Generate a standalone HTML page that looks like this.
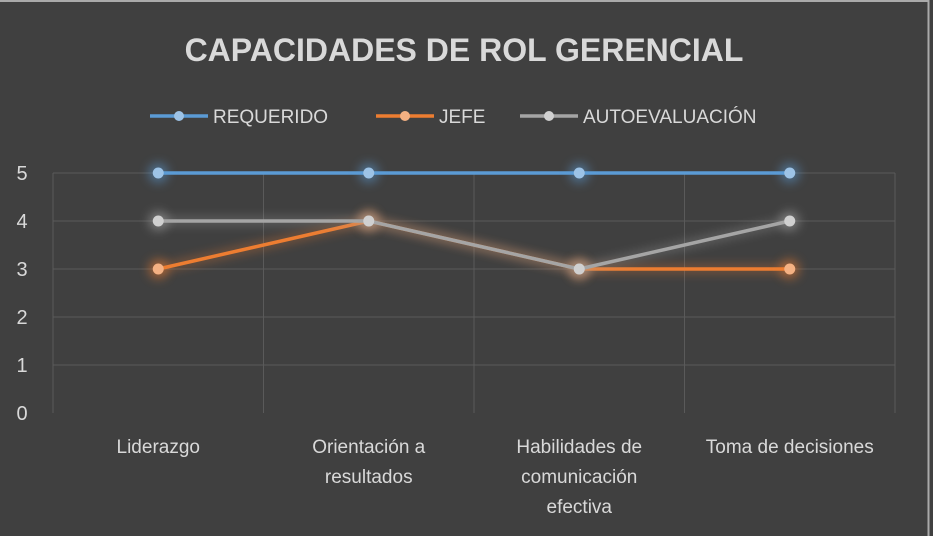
<!DOCTYPE html>
<html><head><meta charset="utf-8"><style>
html,body{margin:0;padding:0;background:#404040;}
svg{display:block;font-family:"Liberation Sans",sans-serif;}
</style></head><body>
<svg id="chart" width="933" height="536">
<defs>
<filter id="glow" x="-50%" y="-50%" width="200%" height="200%"><feGaussianBlur stdDeviation="5"/></filter>
</defs>
<rect x="0" y="0" width="933" height="536" fill="#404040"/>
<line x1="0" y1="1" x2="929" y2="1" stroke="#aaa" stroke-width="2"/>
<line x1="928.5" y1="0" x2="928.5" y2="536" stroke="#aaa" stroke-width="2"/>
<text x="464" y="61" text-anchor="middle" fill="#d9d9d9" font-size="32" font-weight="bold">CAPACIDADES DE ROL GERENCIAL</text>
<g id="legend"></g>
<g id="grid"></g>
<g id="yaxis"></g>
<g id="xaxis"></g>
<g id="series"></g>
</svg>
<script>
const categories=[["Liderazgo"],["Orientación a","resultados"],["Habilidades de","comunicación","efectiva"],["Toma de decisiones"]];
const requerido=[5,5,5,5];
const jefe=[3,4,3,3];
const autoevaluacion=[4,4,3,4];
const yTicks=[0,1,2,3,4,5];
const seriesNames=["REQUERIDO","JEFE","AUTOEVALUACIÓN"];
const seriesColors=["#5b9bd5","#ed7d31","#a5a5a5"];
const markerColors=["#9dc3e6","#f4b183","#d0d0d0"];

const NS="http://www.w3.org/2000/svg";
const L=53,R=895,T=173,B=413,yMax=5;
const xs=i=>L+(R-L)/categories.length*(i+0.5);
const ys=v=>B-(B-T)*v/yMax;
function mk(tag,attrs,parent){const e=document.createElementNS(NS,tag);for(const k in attrs)e.setAttribute(k,attrs[k]);parent.appendChild(e);return e;}
const grid=document.getElementById('grid'),yax=document.getElementById('yaxis'),xax=document.getElementById('xaxis'),ser=document.getElementById('series'),leg=document.getElementById('legend');
yTicks.forEach(t=>{
 if(t>0){const g=mk('line',{x1:L,x2:R,y1:ys(t),y2:ys(t),stroke:'#5a5a5a','stroke-width':1},grid);
 
 }
 const tx=mk('text',{x:22,y:ys(t)+7,'text-anchor':'middle',fill:'#d9d9d9','font-size':20},yax);
 tx.textContent=t;
 
 
});
for(let i=0;i<=categories.length;i++){
 const x=L+(R-L)/categories.length*i;
 const g=mk('line',{x1:x,x2:x,y1:T,y2:B,stroke:'#5a5a5a','stroke-width':1},grid);
 
 
}
categories.forEach((c,i)=>{
 c.forEach((line,j)=>{
  const tx=mk('text',{x:xs(i),y:453+j*30,'text-anchor':'middle',fill:'#d9d9d9','font-size':19},xax);
  tx.textContent=line;
  
  
 });
});
const allSeries=[requerido,jefe,autoevaluacion];
allSeries.forEach((vals,s)=>{
 const g=mk('g',{},ser);
 
 
 const pts=vals.map((v,i)=>xs(i)+','+ys(v)).join(' ');
 mk('polyline',{points:pts,fill:'none',stroke:seriesColors[s],'stroke-width':8,opacity:0.35,filter:'url(#glow)'},g);
 const pl=mk('polyline',{points:pts,fill:'none',stroke:seriesColors[s],'stroke-width':3.5,'stroke-linejoin':'round'},g);
 
 
 vals.forEach((v,i)=>{
  mk('circle',{cx:xs(i),cy:ys(v),r:10,fill:seriesColors[s],opacity:0.5,filter:'url(#glow)'},g);
  const c=mk('circle',{cx:xs(i),cy:ys(v),r:5.5,fill:markerColors[s]},g);
  
  
 });
});
const legX=[150,376,520];
seriesNames.forEach((n,s)=>{
 const g=mk('g',{},leg);
 
 
 mk('line',{x1:legX[s],x2:legX[s]+58,y1:116,y2:116,stroke:seriesColors[s],'stroke-width':3.5},g);
 mk('circle',{cx:legX[s]+29,cy:116,r:5,fill:markerColors[s]},g);
 const t=mk('text',{x:legX[s]+63,y:123,fill:'#d9d9d9','font-size':19},g);
 t.textContent=n;
});
</script>
</body></html>
